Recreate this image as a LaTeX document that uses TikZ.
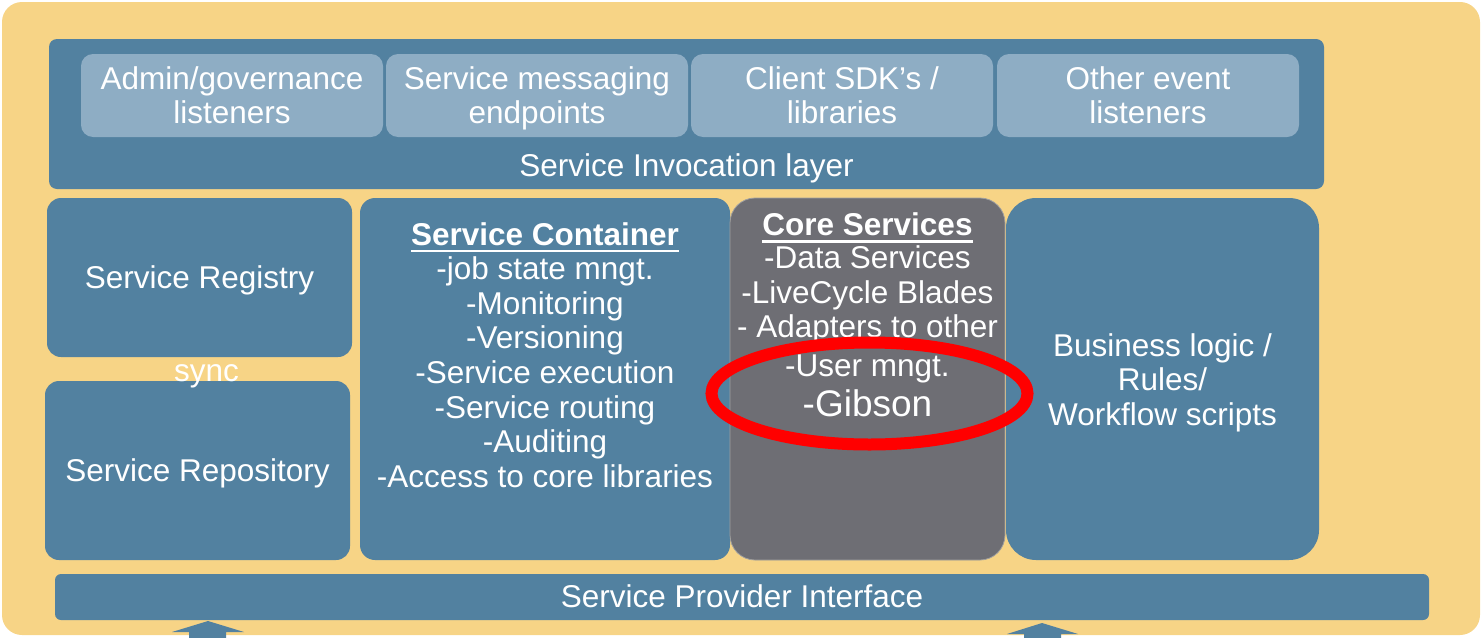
\documentclass[tikz,border=0pt]{standalone}
\usepackage{fontspec}
\setmainfont{Liberation Sans}
\usetikzlibrary{shapes.geometric}
\definecolor{bgor}{HTML}{F7D486}
\definecolor{blu}{HTML}{5281A0}
\definecolor{lblu}{HTML}{8EADC4}
\definecolor{gry}{HTML}{6E6E74}
\newcommand\ulbox[1]{\setbox0=\hbox{#1}\rlap{\rule[-7pt]{\wd0}{2.5pt}}\box0}
\newcommand\ms{\rule[-6.6pt]{0pt}{34.6pt}}
\begin{document}
\begin{tikzpicture}[x=1pt,y=-1pt,
  txt/.style={text=white, inner sep=0pt, align=center, font=\fontsize{31.5}{34.6}\selectfont,
    execute at begin node=\ms, execute at end node=\ms},
  blk/.style={txt, fill=blu, draw=none},
  sub/.style={fill=lblu, draw=none, inner sep=0pt, minimum width=302pt, minimum height=83pt, rounded corners=12pt},
  col/.style={blk, minimum height=362pt}
]
\useasboundingbox (0,0) rectangle (1482,637);
% background
\node[fill=bgor, draw=none, rounded corners=20pt, minimum width=1478pt, minimum height=633pt, inner sep=0pt] (bg) at (741,318.5) {};
% invocation layer
\node[blk, minimum width=1275pt, minimum height=150pt, rounded corners=8pt] (inv) at (686.5,114) {};
\node[sub] (admin) at (232,95.5) {};
\node[sub] (msg) at (537,95.5) {};
\node[sub] (sdk) at (842,95.5) {};
\node[sub] (evt) at (1148,95.5) {};
\node[txt] (admintxt) at (232,98.5) {Admin/governance\\listeners};
\node[txt] (msgtxt) at (537,98.5) {Service messaging\\endpoints};
\node[txt] (sdktxt) at (842,98.5) {Client SDK’s /\\libraries};
\node[txt] (evttxt) at (1148,98.5) {Other event\\listeners};
\node[txt] (invlab) at (686.5,166) {Service Invocation layer};
% registry / repository
\node[blk, minimum width=305pt, minimum height=159pt, rounded corners=14pt] (reg) at (199.5,277.5) {Service Registry};
\node[blk, minimum width=305pt, minimum height=179pt, rounded corners=14pt] (repo) at (197.5,470.5) {Service Repository};
\node[text=white, fill=bgor, inner sep=0pt, minimum width=77pt, minimum height=23pt, text height=23pt, text depth=0pt,
  font=\fontsize{31.5}{34.6}\selectfont] (sync) at (206.5,369.5) {sync};
% service container
\node[col, minimum width=370pt, rounded corners=15pt] (cont) at (545,379) {};
\node[txt] (conttxt) at (545,358) {\textbf{\ulbox{Service Container}}\\-job state mngt.\\-Monitoring\\-Versioning\\-Service execution\\-Service routing\\-Auditing\\-Access to core libraries};
% core services
\node[col, fill=gry, draw=gray!75, line width=0.8pt, minimum width=275pt, rounded corners=25pt] (core) at (867.5,379) {};
\node[txt] (coretxt) at (867.5,318) {\textbf{\ulbox{Core Services}}\\[-1.6pt]-Data Services\\-LiveCycle Blades\\- Adapters to other\\[4pt]-User mngt.\\[5.4pt]{\fontsize{37}{40}\selectfont -Gibson}};
% business logic
\node[col, minimum width=313pt, rounded corners=30pt] (biz) at (1162.5,379) {};
\node[txt] (biztxt) at (1162.5,382.5) {Business logic /\\Rules/\\Workflow scripts};
% red ellipse
\node[draw=red, line width=12pt, ellipse, inner sep=0pt, minimum width=316pt, minimum height=102pt] (ring) at (869.5,393.5) {};
% service provider interface
\node[blk, minimum width=1374pt, minimum height=46pt, rounded corners=6pt] (spi) at (742,597) {Service Provider Interface};
% block arrows
\fill[blu] (189,640) -- (189,632) -- (172,632) -- (208,621) -- (244,632) -- (226,632) -- (226,640) -- cycle;
\fill[blu] (1024,640) -- (1024,634) -- (1007,634) -- (1042,623) -- (1078,634) -- (1061,634) -- (1061,640) -- cycle;
\end{tikzpicture}
\end{document}
